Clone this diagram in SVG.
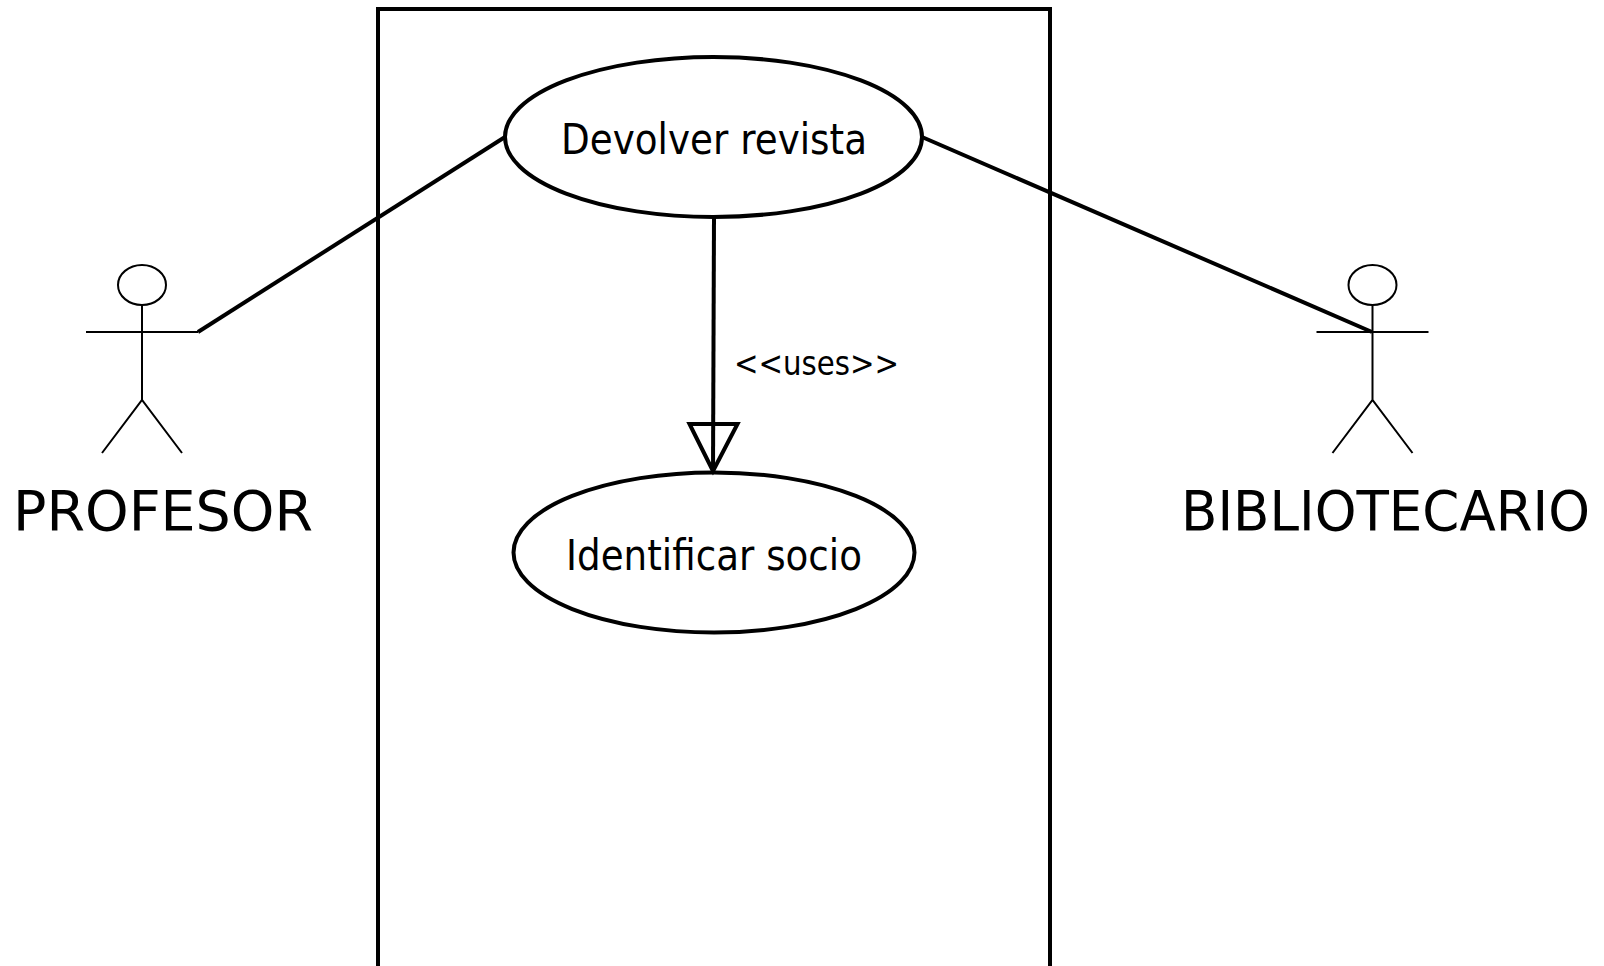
<svg xmlns="http://www.w3.org/2000/svg" width="1604" height="966" viewBox="0 0 1604 966">
<style>
.thick{fill:none;stroke:#000;stroke-width:4}
.thin{fill:none;stroke:#000;stroke-width:2}
text{font-family:"DejaVu Sans",sans-serif;fill:#000}
.uc{font-size:43px;text-anchor:middle}
.lab{font-size:33px}
.act{font-size:55px}
</style>
<rect width="1604" height="966" fill="#fff"/>
<rect id="boundary" class="thick" x="378" y="9" width="672" height="1000"/>
<g id="connectors">
<line class="thick" x1="505" y1="137" x2="198" y2="332"/>
<line class="thick" x1="922" y1="137" x2="1372" y2="332"/>
<line class="thick" x1="714" y1="217" x2="713" y2="472"/>
<polygon class="thick" points="689.500,424 737.500,424 713,471"/>
<text class="lab" x="734" y="375" textLength="165" lengthAdjust="spacingAndGlyphs">&lt;&lt;uses&gt;&gt;</text>
</g>
<g id="uc1"><ellipse class="thick" cx="713.500" cy="137" rx="208.500" ry="80"/><text class="uc" x="714" y="154" textLength="306" lengthAdjust="spacingAndGlyphs">Devolver revista</text></g>
<g id="uc2"><ellipse class="thick" cx="714" cy="552.500" rx="200.500" ry="80"/><text class="uc" x="714" y="570" textLength="296" lengthAdjust="spacingAndGlyphs">Identificar socio</text></g>
<g id="profesor">
<ellipse class="thin" cx="142" cy="285" rx="24" ry="20"/>
<path class="thin" d="M142 305V400M86 332H198M102 453L142 400L182 453"/>
<text class="act" x="13" y="530" textLength="300" lengthAdjust="spacingAndGlyphs">PROFESOR</text>
</g>
<g id="bibliotecario">
<ellipse class="thin" cx="1372.500" cy="285" rx="24" ry="20"/>
<path class="thin" d="M1372.500 305V400M1316.500 332H1428.500M1332.500 453L1372.500 400L1412.500 453"/>
<text class="act" x="1181" y="530" textLength="409" lengthAdjust="spacingAndGlyphs">BIBLIOTECARIO</text>
</g>
</svg>
